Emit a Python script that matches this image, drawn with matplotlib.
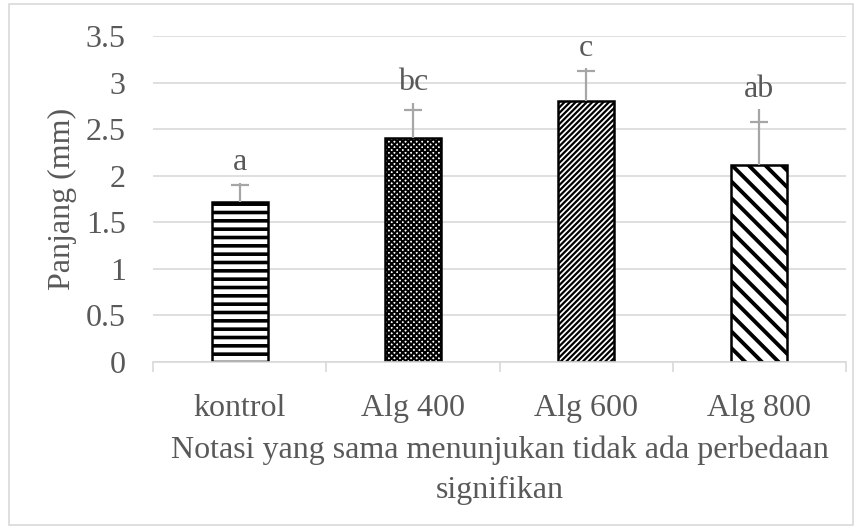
import matplotlib.pyplot as plt
import numpy as np

# data
categories = ['kontrol', 'Alg 400', 'Alg 600', 'Alg 800']
means = [1.72, 2.40, 2.80, 2.12]
err_top = [1.925, 2.785, 3.155, 2.715]   # upper end of the error line
cap_at = [1.90, 2.71, 3.12, 2.58]        # where the cap crosses the line
notasi = ['a', 'bc', 'c', 'ab']
hatches = ['--', 'xxxxxx', '//////', '\\\\']
hatch_lw = [2.6, 1.5, 1.6, 2.8]

plt.rcParams['font.family'] = ['Liberation Serif', 'DejaVu Serif']
grey = '#595959'
fs = 23

fig = plt.figure(figsize=(8.62, 5.29), dpi=100)
ax = fig.add_axes([0.178, 0.3157, 0.803, 0.6163])

x = np.arange(len(categories))
for i in range(len(categories)):
    plt.rcParams['hatch.linewidth'] = hatch_lw[i]
    b = ax.bar(x[i], means[i], width=0.32, color='white', edgecolor='black',
               hatch=hatches[i], linewidth=1.8, zorder=2)
    if hasattr(b[0], 'set_hatch_linewidth'):
        b[0].set_hatch_linewidth(hatch_lw[i])
ax.vlines(x, means, err_top, color='#a6a6a6', linewidth=1.6, zorder=3)
ax.plot(x, cap_at, linestyle='none', marker='_', markersize=13,
        markeredgewidth=1.6, color='#a6a6a6', zorder=3)
for i in range(len(categories)):
    ax.text(x[i], err_top[i] + 0.134, notasi[i], ha='center', va='baseline',
            fontsize=fs, color=grey)

ax.set_xlim(-0.5, len(categories) - 0.5)
ax.set_ylim(0, 3.5)
ax.set_yticks(np.arange(0, 3.51, 0.5))
ax.set_yticklabels(['0', '0.5', '1', '1.5', '2', '2.5', '3', '3.5'])
ax.yaxis.grid(True, color='#d9d9d9', linewidth=1.2)
ax.set_axisbelow(True)
ax.tick_params(axis='y', length=0, labelsize=fs, labelcolor=grey, pad=20)
ax.set_xticks(x)
ax.set_xticklabels(categories)
ax.tick_params(axis='x', length=0, labelsize=fs, labelcolor=grey, pad=23)
ax.set_xticks(np.arange(-0.5, len(categories)), minor=True)
ax.tick_params(axis='x', which='minor', length=7, color='#d9d9d9', width=1.2)
for s in ['top', 'right', 'left']:
    ax.spines[s].set_visible(False)
ax.spines['bottom'].set_color('#d9d9d9')
ax.spines['bottom'].set_linewidth(1.2)

ax.set_ylabel('Panjang (mm)', fontsize=fs, color=grey, labelpad=6)
ax.set_xlabel('Notasi yang sama menunjukan tidak ada perbedaan\nsignifikan',
              fontsize=fs, color=grey, labelpad=9, linespacing=1.5)

# chart border
fig.patches.append(plt.Rectangle((0.01, 0.008), 0.98, 0.984, transform=fig.transFigure,
                                 fill=False, edgecolor='#d9d9d9', linewidth=1.2))

fig.savefig('out.png', dpi=100)
